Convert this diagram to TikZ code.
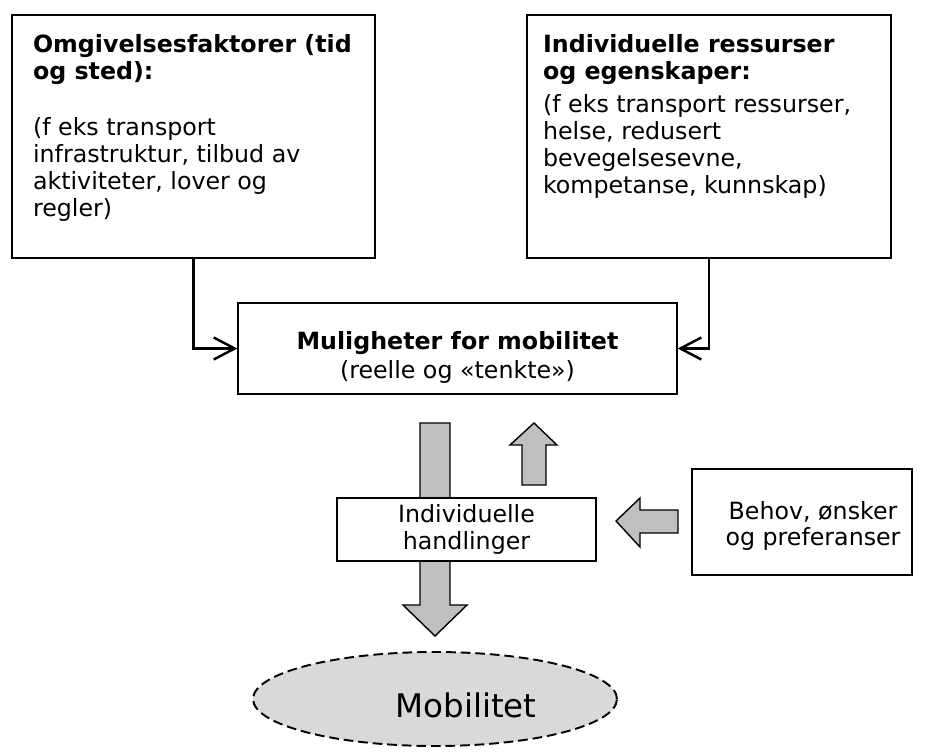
\documentclass[tikz,border=0pt]{standalone}
\usepackage{fontspec}
\setmainfont{DejaVu Sans}
\usetikzlibrary{arrows.meta, positioning, shapes.geometric}

\begin{document}
\begin{tikzpicture}[
    x=0.02cm, y=-0.02cm,
    topbox/.style={rectangle, draw=black, line width=1.2pt, anchor=north west,
                   inner xsep=0.42cm, inner ysep=0.38cm,
                   font=\fontsize{13.5}{15.4}\selectfont},
    box/.style={rectangle, draw=black, line width=0.8pt, fill=white, align=center,
                font=\fontsize{13.5}{16.5}\selectfont},
    goal/.style={ellipse, draw=black, line width=1.1pt, dash pattern=on 5.5pt off 2.8pt,
                 fill=black!15},
    fatarrow/.style={draw=black, line width=0.8pt, fill=black!25, line join=miter},
    arrow/.style={-{Straight Barb[length=4.2mm, width=4.4mm]}, line width=1.4pt}
]
\useasboundingbox (0,0) rectangle (925,753);

% block arrows (behind the boxes)
\draw[fatarrow] (420,423) -- (450,423) -- (450,605) -- (467,605) -- (435,636)
    -- (403,605) -- (420,605) -- cycle;
\draw[fatarrow] (534,423) -- (557,445) -- (546,445) -- (546,485) -- (522,485)
    -- (522,445) -- (510,445) -- cycle;
\draw[fatarrow] (616,521) -- (640,498) -- (640,510) -- (678,510) -- (678,533)
    -- (640,533) -- (640,547) -- cycle;

\node[topbox] (omgivelser) at (11,14) {\parbox[t][4.10cm][t]{6.42cm}{\raggedright
    \textbf{Omgivelsesfaktorer (tid\\og sted):}\\[16.6pt]
    (f eks transport\\infrastruktur, tilbud av\\aktiviteter, lover og\\regler)}};
\node[topbox, inner xsep=0.32cm] (ressurser) at (526,14) {\parbox[t][4.10cm][t]{6.64cm}{\raggedright
    \textbf{Individuelle ressurser\\og egenskaper:}\\[3.5pt]
    (f eks transport ressurser,\\helse, redusert\\bevegelsesevne,\\kompetanse, kunnskap)}};

\node[box, minimum width=8.78cm, minimum height=1.82cm] (muligheter) at (457.5,348.5)
    {\rule{0pt}{21pt}\textbf{Muligheter for mobilitet}\\(reelle og «tenkte»)};

\node[box, minimum width=5.18cm, minimum height=1.26cm, inner ysep=1pt,
      font=\fontsize{13.5}{15}\selectfont] (handlinger) at (466.5,529.5)
    {Individuelle\\handlinger};

\node[box, line width=1.1pt, minimum width=4.4cm, minimum height=2.12cm] (behov) at (802,522) {};
\node[align=center, font=\fontsize{13.5}{15}\selectfont] (behovtekst) at (813,526)
    {Behov, ønsker\\og preferanser};

\node[goal, minimum width=7.28cm, minimum height=1.88cm] (mobilitet) at (435,699) {};
\node[font=\fontsize{18.5}{20}\selectfont] (mobilitettekst) at (466,705) {Mobilitet};

\draw[arrow] (omgivelser.south) |- (muligheter.west);
\draw[arrow] (ressurser.south) |- (muligheter.east);

\end{tikzpicture}
\end{document}
